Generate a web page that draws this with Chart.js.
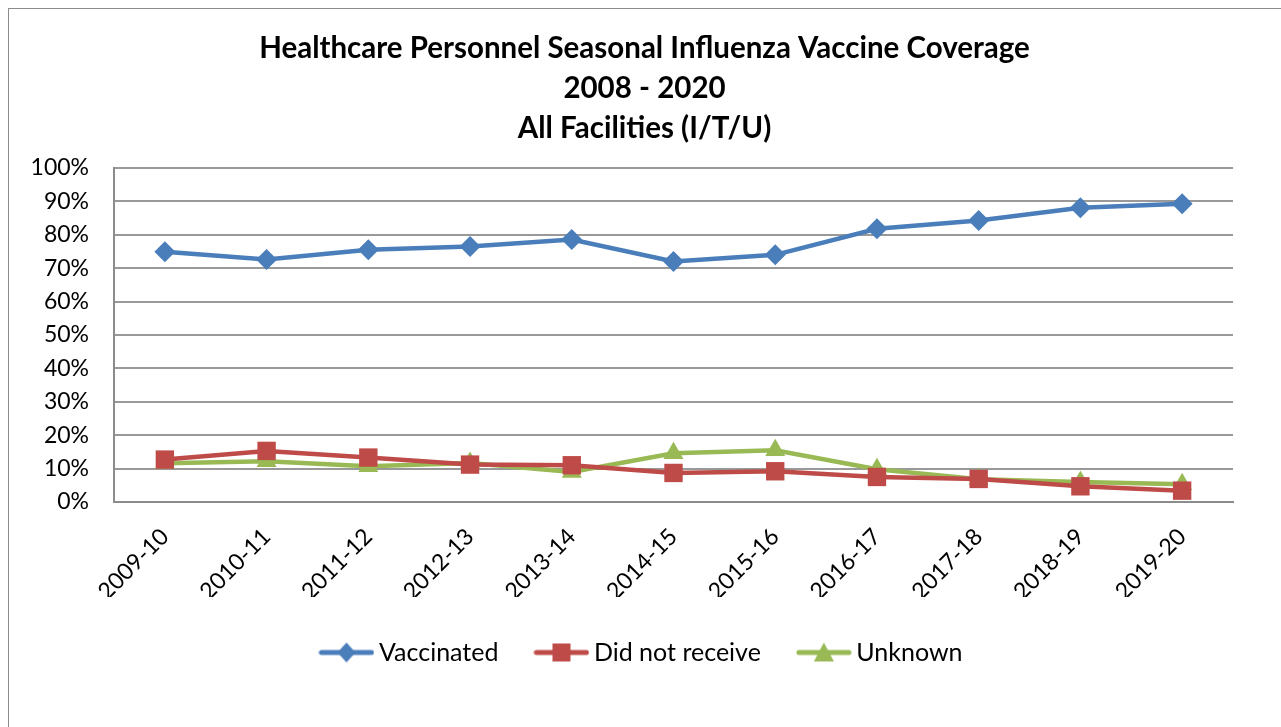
<!DOCTYPE html>
<html>
<head>
<meta charset="utf-8">
<script src="https://cdn.jsdelivr.net/npm/chart.js@4/dist/chart.umd.min.js"></script>
<style>
  body { margin: 0; background: #fff; overflow: hidden; }
  #frame { position: absolute; left: 8px; top: 8px; width: 1300px; height: 760px; border: 1px solid #8c8c8c; }
  #chart { position: absolute; left: 0; top: 0; }
</style>
</head>
<body>
<div id="frame"></div>
<canvas id="chart" width="1281" height="727"></canvas>
<script>
// data
const seasons = ["2009-10", "2010-11", "2011-12", "2012-13", "2013-14", "2014-15",
  "2015-16", "2016-17", "2017-18", "2018-19", "2019-20"];
const vaccinated = [74.9, 72.6, 75.5, 76.5, 78.6, 72.0, 74.0, 81.8, 84.3, 88.1, 89.3];
const didNotReceive = [12.7, 15.3, 13.3, 11.2, 11.0, 8.7, 9.2, 7.5, 6.9, 4.7, 3.4];
const unknown = [11.6, 12.2, 10.7, 11.7, 9.0, 14.6, 15.5, 9.8, 6.8, 6.0, 5.3];
const yTicks = [0, 10, 20, 30, 40, 50, 60, 70, 80, 90, 100];

const blue = "#4a7ebb";
const red = "#be4b48";
const green = "#98b954";

// legend icons: line with marker in the middle
const makeIcon = (color, style) => {
  const c = document.createElement("canvas");
  c.width = 56;
  c.height = 24;
  const ctx = c.getContext("2d");
  ctx.strokeStyle = color;
  ctx.lineWidth = 5;
  ctx.lineCap = "round";
  ctx.beginPath();
  ctx.moveTo(3, 12);
  ctx.lineTo(53, 12);
  ctx.stroke();
  ctx.fillStyle = color;
  ctx.beginPath();
  if (style === "diamond") {
    ctx.moveTo(28, 2); ctx.lineTo(37, 12); ctx.lineTo(28, 22); ctx.lineTo(19, 12);
  } else if (style === "square") {
    ctx.rect(19, 3, 18, 18);
  } else {
    ctx.moveTo(28, 2); ctx.lineTo(38, 21); ctx.lineTo(18, 21);
  }
  ctx.closePath();
  ctx.fill();
  return c;
};
const icons = [makeIcon(blue, "diamond"), makeIcon(red, "square"), makeIcon(green, "triangle")];

const font = "Lato, 'Open Sans', sans-serif";

new Chart(document.querySelector("#chart").getContext("2d"), {
  type: "line",
  data: {
    labels: seasons,
    datasets: [
      {
        label: "Vaccinated",
        data: vaccinated,
        borderColor: blue,
        backgroundColor: blue,
        borderWidth: 4.5,
        pointStyle: "rectRot",
        pointRadius: 10.5,
        pointBorderWidth: 0,
      },
      {
        label: "Did not receive",
        data: didNotReceive,
        borderColor: red,
        backgroundColor: red,
        borderWidth: 4.5,
        pointStyle: "rect",
        pointRadius: 13,
        pointBorderWidth: 0,
      },
      {
        label: "Unknown",
        data: unknown,
        borderColor: green,
        backgroundColor: green,
        borderWidth: 4.5,
        pointStyle: "triangle",
        pointRadius: 11.5,
        pointBorderWidth: 0,
      },
    ],
  },
  options: {
    responsive: false,
    animation: false,
    layout: {
      padding: { left: 8, right: 0, top: 0, bottom: 52 },
    },
    plugins: {
      title: {
        display: true,
        text: [
          "Healthcare Personnel Seasonal Influenza Vaccine Coverage",
          "2008 - 2020",
          "All Facilities (I/T/U)",
        ],
        color: "#000",
        font: { family: font, size: 29.5, weight: "bold", lineHeight: "40px" },
        padding: { top: 28, bottom: 20 },
      },
      legend: {
        display: true,
        position: "bottom",
        labels: {
          color: "#000",
          font: { family: font, size: 25 },
          usePointStyle: true,
          pointStyleWidth: 40,
          padding: 43,
          generateLabels: (chart) =>
            Chart.defaults.plugins.legend.labels.generateLabels(chart).map((item, i) => {
              item.pointStyle = icons[i];
              return item;
            }),
        },
      },
      tooltip: { enabled: false },
    },
    scales: {
      x: {
        offset: true,
        grid: { display: false, drawTicks: false },
        border: { display: true, color: "#8c8c8c", width: 2 },
        ticks: {
          color: "#000",
          font: { family: font, size: 23 },
          minRotation: 45,
          maxRotation: 45,
          padding: 21,
        },
        afterFit: (scale) => {
          scale.height = 95;
        },
      },
      y: {
        min: 0,
        max: 100,
        afterBuildTicks: (scale) => {
          scale.ticks = yTicks.map((v) => ({ value: v }));
        },
        grid: { color: "#999", lineWidth: 2, drawTicks: false },
        border: { display: true, color: "#8c8c8c", width: 2 },
        ticks: {
          color: "#000",
          font: { family: font, size: 23 },
          padding: 25,
          callback: (v) => v + "%",
        },
        afterFit: (scale) => {
          scale.width = 106;
        },
      },
      // empty right-hand space so the title centres on the whole frame
      yRight: {
        position: "right",
        display: true,
        grid: { display: false, drawTicks: false },
        border: { display: false },
        ticks: { display: false },
        afterFit: (scale) => {
          scale.width = 48;
        },
      },
    },
  },
});
</script>
</body>
</html>
